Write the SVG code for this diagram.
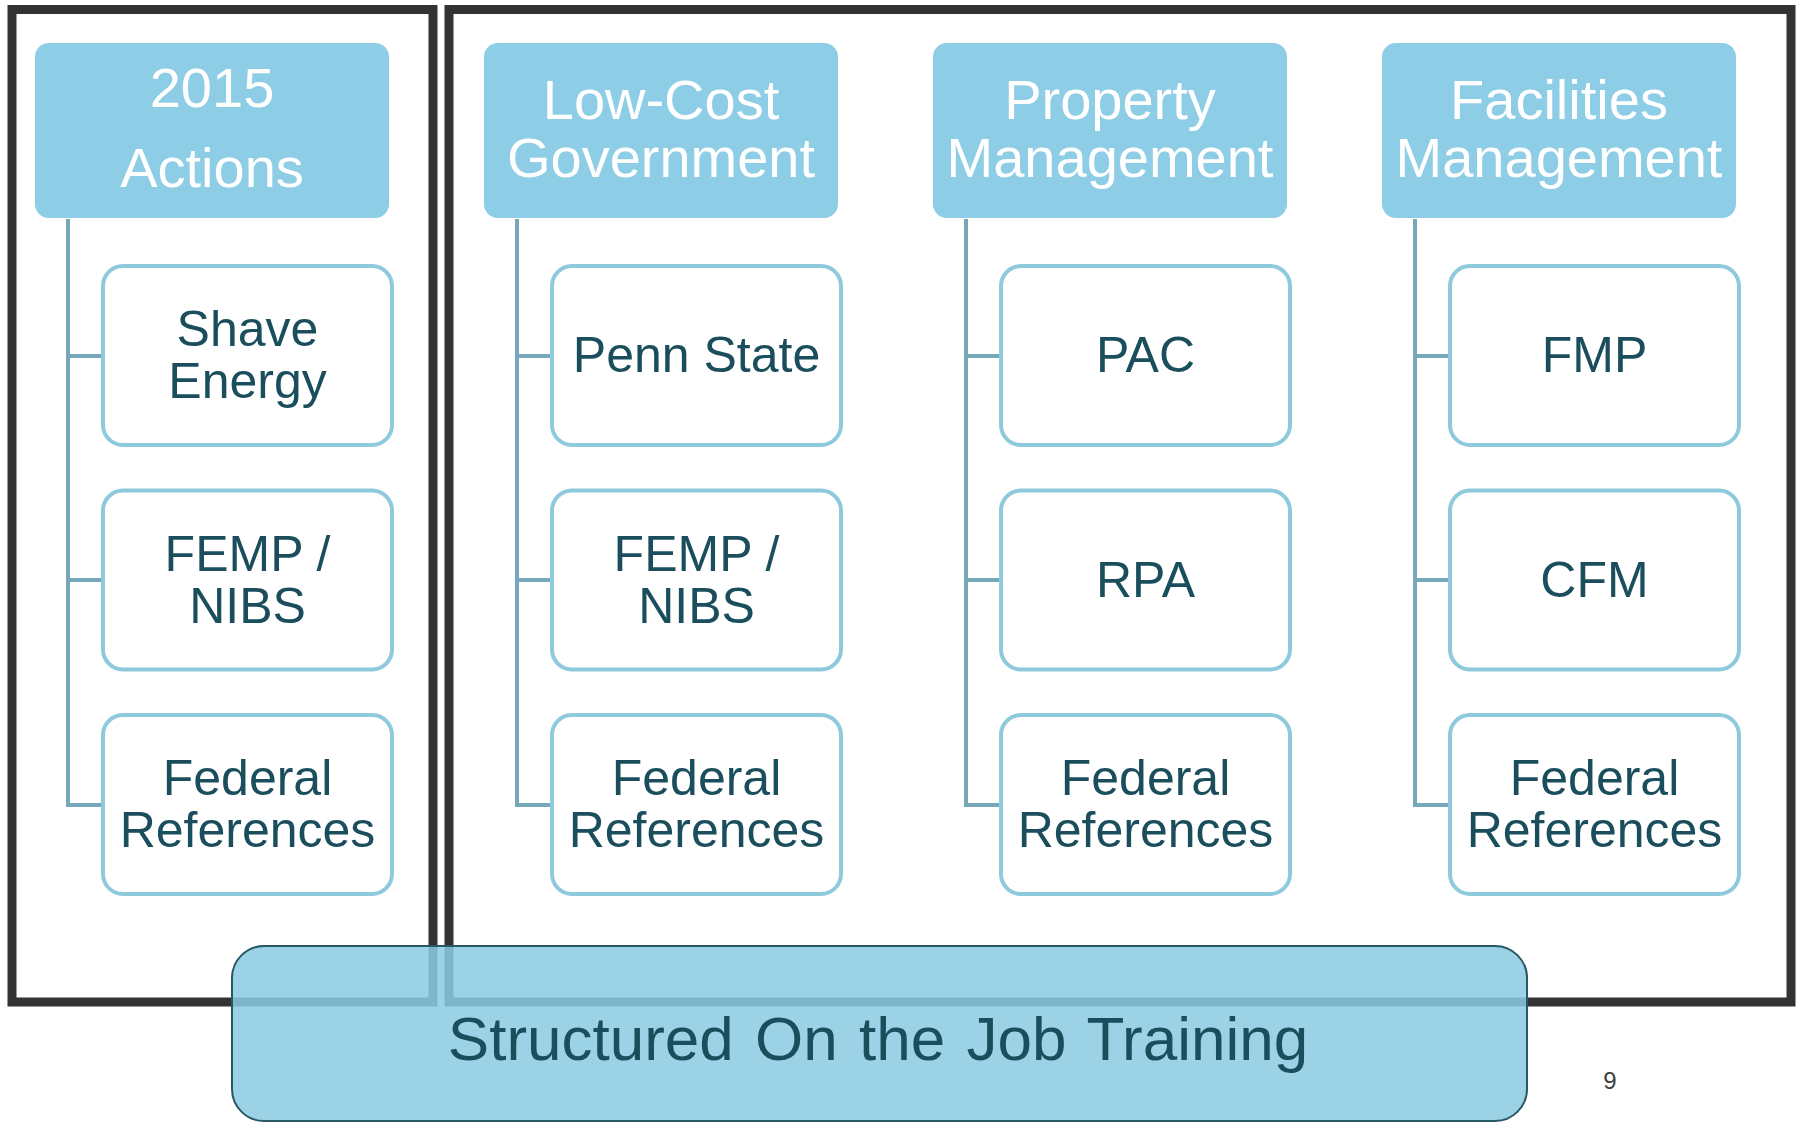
<svg xmlns="http://www.w3.org/2000/svg" width="1796" height="1123" viewBox="0 0 1796 1123">
<style>
.frame{fill:none;stroke:#333333;stroke-width:9}
.hdr{fill:#8ecde6}
.hdrt{font-family:"Liberation Sans",Arial,sans-serif;font-size:56px;fill:#ffffff;text-anchor:middle}
.child{fill:#ffffff;stroke:#8fcadc;stroke-width:4}
.ct{font-family:"Liberation Sans",Arial,sans-serif;font-size:50px;fill:#1b4e5c;text-anchor:middle}
.conn{fill:none;stroke:#76a8b9;stroke-width:4}
.bar{fill:#8ccbe2;fill-opacity:0.86;stroke:#285865;stroke-width:2}
.bart{font-family:"Liberation Sans",Arial,sans-serif;font-size:62px;word-spacing:4px;fill:#1b4e5c;text-anchor:middle}
.pg{font-family:"Liberation Sans",Arial,sans-serif;font-size:24px;fill:#404040;text-anchor:middle}
</style>
<rect width="1796" height="1123" fill="#ffffff"/>
<g id="frames">
<rect class="frame" x="12" y="9.5" width="421" height="992.5"/>
<rect class="frame" x="449" y="9.5" width="1342" height="992.5"/>
</g>
<g id="connectors">
<path class="conn" d="M68,219 V805 H103 M68,356 H103 M68,580 H103"/>
<path class="conn" d="M517,219 V805 H552 M517,356 H552 M517,580 H552"/>
<path class="conn" d="M966,219 V805 H1001 M966,356 H1001 M966,580 H1001"/>
<path class="conn" d="M1415,219 V805 H1450 M1415,356 H1450 M1415,580 H1450"/>
</g>
<g id="h1"><rect class="hdr" x="35" y="43" width="354" height="175" rx="14"/><text class="hdrt" x="212" y="107">2015</text><text class="hdrt" x="212" y="187">Actions</text></g>
<g id="h2"><rect class="hdr" x="484" y="43" width="354" height="175" rx="14"/><text class="hdrt" x="661" y="119">Low-Cost</text><text class="hdrt" x="661" y="177">Government</text></g>
<g id="h3"><rect class="hdr" x="933" y="43" width="354" height="175" rx="14"/><text class="hdrt" x="1110" y="119">Property</text><text class="hdrt" x="1110" y="177">Management</text></g>
<g id="h4"><rect class="hdr" x="1382" y="43" width="354" height="175" rx="14"/><text class="hdrt" x="1559" y="119">Facilities</text><text class="hdrt" x="1559" y="177">Management</text></g>

<g id="c1r1"><rect class="child" x="103" y="266" width="289" height="179" rx="20"/><text class="ct" x="247.5" y="346">Shave</text><text class="ct" x="247.5" y="398">Energy</text></g>
<g id="c1r2"><rect class="child" x="103" y="490.5" width="289" height="179" rx="20"/><text class="ct" x="247.5" y="571">FEMP /</text><text class="ct" x="247.5" y="623">NIBS</text></g>
<g id="c1r3"><rect class="child" x="103" y="715" width="289" height="179" rx="20"/><text class="ct" x="247.5" y="795">Federal</text><text class="ct" x="247.5" y="847">References</text></g>

<g id="c2r1"><rect class="child" x="552" y="266" width="289" height="179" rx="20"/><text class="ct" x="696.5" y="372">Penn State</text></g>
<g id="c2r2"><rect class="child" x="552" y="490.5" width="289" height="179" rx="20"/><text class="ct" x="696.5" y="571">FEMP /</text><text class="ct" x="696.5" y="623">NIBS</text></g>
<g id="c2r3"><rect class="child" x="552" y="715" width="289" height="179" rx="20"/><text class="ct" x="696.5" y="795">Federal</text><text class="ct" x="696.5" y="847">References</text></g>

<g id="c3r1"><rect class="child" x="1001" y="266" width="289" height="179" rx="20"/><text class="ct" x="1145.5" y="372">PAC</text></g>
<g id="c3r2"><rect class="child" x="1001" y="490.5" width="289" height="179" rx="20"/><text class="ct" x="1145.5" y="597">RPA</text></g>
<g id="c3r3"><rect class="child" x="1001" y="715" width="289" height="179" rx="20"/><text class="ct" x="1145.5" y="795">Federal</text><text class="ct" x="1145.5" y="847">References</text></g>

<g id="c4r1"><rect class="child" x="1450" y="266" width="289" height="179" rx="20"/><text class="ct" x="1594.5" y="372">FMP</text></g>
<g id="c4r2"><rect class="child" x="1450" y="490.5" width="289" height="179" rx="20"/><text class="ct" x="1594.5" y="597">CFM</text></g>
<g id="c4r3"><rect class="child" x="1450" y="715" width="289" height="179" rx="20"/><text class="ct" x="1594.5" y="795">Federal</text><text class="ct" x="1594.5" y="847">References</text></g>

<g id="ojt"><rect class="bar" x="232" y="946" width="1295" height="175" rx="32"/><text class="bart" x="878" y="1060">Structured On the Job Training</text></g>
<g id="page"><text class="pg" x="1610" y="1089">9</text></g>
</svg>
